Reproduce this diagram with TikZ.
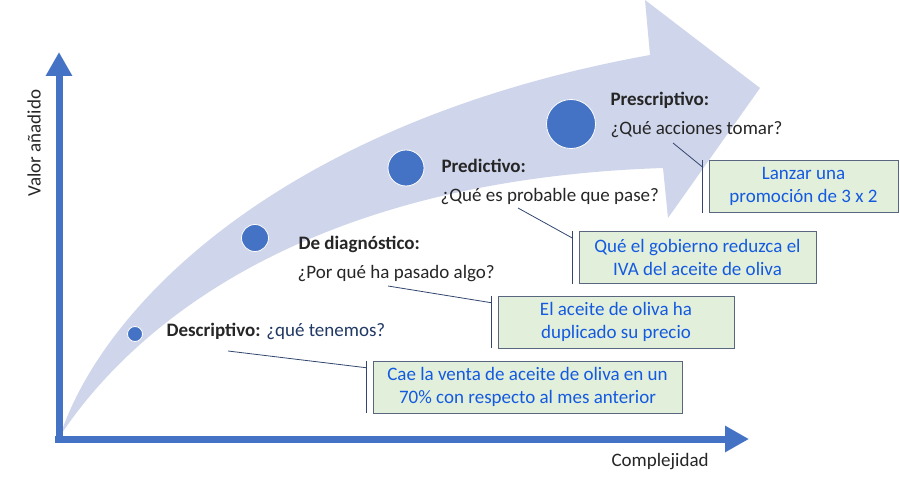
\documentclass[tikz,border=0pt]{standalone}
\usepackage{fontspec}
\setmainfont{Carlito}
\usetikzlibrary{arrows.meta}

\begin{document}
\begin{tikzpicture}[x=1pt,y=-1pt,
        stagedot/.style={circle,fill=axisblue,draw=white,line width=0.8pt,inner sep=0pt},
        stagetitle/.style={anchor=base west,text=labelgray,font=\fontsize{19}{23}\selectfont\bfseries},
        stagequestion/.style={anchor=base west,text=labelgray,font=\fontsize{19}{23}\selectfont},
        callout/.style={draw=boxborder,fill=boxfill,text=boxtext,align=center,minimum height=52pt,inner sep=2pt,font=\fontsize{19}{22.5}\selectfont},
        leader/.style={draw=leadercolor,line width=0.8pt},
        axis/.style={draw=axisblue,line width=7pt,-{Triangle[width=25pt,length=24pt]}}]
        % Define colors
        \definecolor{axisblue}{RGB}{68,114,196}
        \definecolor{bandcolor}{RGB}{207,213,234}
        \definecolor{labelgray}{RGB}{38,38,38}
        \definecolor{questionnavy}{RGB}{31,56,100}
        \definecolor{boxfill}{RGB}{226,239,218}
        \definecolor{boxborder}{RGB}{88,102,128}
        \definecolor{boxtext}{RGB}{20,90,225}
        \definecolor{leadercolor}{RGB}{50,70,110}

        \useasboundingbox (0,0) rectangle (900,484);

        % Big curved arrow
        \fill[bandcolor] (60,436) .. controls (105,300) and (290,120) .. (650,55)
            -- (645,0) -- (760,88) -- (668,218) -- (663,168)
            .. controls (300,180) and (130,330) .. (60,436) -- cycle;

        % Draw axes
        \draw[axis] (59,442) -- (59,52);
        \draw[axis] (55,439) -- (749,439);
        \node[rotate=90,text=labelgray,font=\fontsize{19}{23}\selectfont] (valueLabel) at (34,143) {Valor añadido};
        \node[anchor=base west,text=labelgray,font=\fontsize{19}{23}\selectfont] (complexLabel) at (608,466) {Complejidad};

        % Stages
        \foreach \name/\x/\y/\d in {desc/135/334/15, diag/255/238/27, pred/406/168/36, presc/571/124/49}
            \node[stagedot,minimum size=\d pt] (\name Dot) at (\x,\y) {};

        \node[stagetitle] (descTitle) at (163,336) {Descriptivo: {\mdseries\color{questionnavy}¿qué tenemos?}};
        \node[stagetitle] (diagTitle) at (295,249) {De diagnóstico:};
        \node[stagequestion] (diagQuestion) at (294,278) {¿Por qué ha pasado algo?};
        \node[stagetitle] (predTitle) at (438,172) {Predictivo:};
        \node[stagequestion] (predQuestion) at (437,201) {¿Qué es probable que pase?};
        \node[stagetitle] (prescTitle) at (607,106) {Prescriptivo:};
        \node[stagequestion] (prescQuestion) at (607,135) {¿Qué acciones tomar?};

        % Callouts
        \node[callout,minimum width=309pt] (salesBox) at (527.5,387) {Cae la venta de aceite de oliva en un\\70\% con respecto al mes anterior};
        \node[callout,minimum width=236pt] (priceBox) at (616,322) {El aceite de oliva ha\\duplicado su precio};
        \node[callout,minimum width=237pt] (taxBox) at (697.5,257.5) {Qué el gobierno reduzca el\\IVA del aceite de oliva};
        \node[callout,minimum width=189pt] (promoBox) at (803.5,186.5) {Lanzar una\\promoción de 3 x 2};

        \coordinate (descTail) at (228,351);
        \coordinate (diagTail) at (388,286);
        \coordinate (predTail) at (518,208);
        \coordinate (prescTail) at (673,143);

        \foreach \tail/\callbox in {descTail/salesBox, diagTail/priceBox, predTail/taxBox, prescTail/promoBox} {
            \draw[leader] ([xshift=-6pt]\callbox.north west) -- ([xshift=-6pt]\callbox.south west);
            \draw[leader] (\tail) -- ([xshift=-6pt,yshift=-7pt]\callbox.north west);
        }

    \end{tikzpicture}
\end{document}
